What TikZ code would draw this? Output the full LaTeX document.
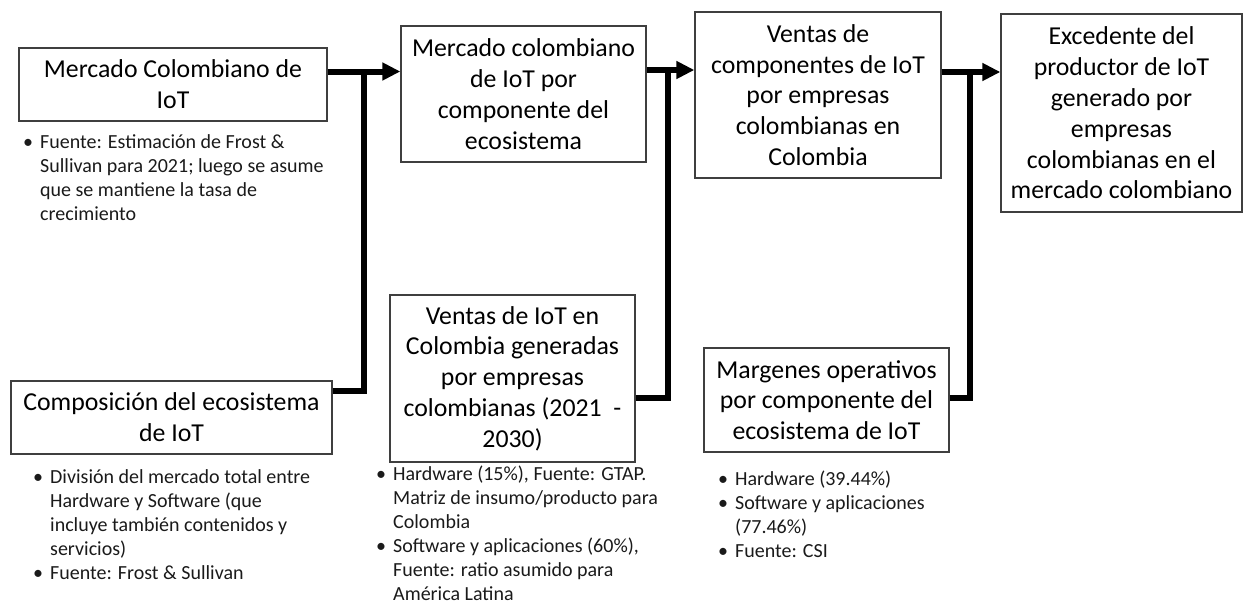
\documentclass[tikz,border=0pt]{standalone}
\usepackage{fontspec}
\setmainfont{Carlito}
\usetikzlibrary{arrows.meta}
\definecolor{boxgray}{HTML}{3F3F3F}
\definecolor{bultext}{HTML}{1A1A1A}
\tikzset{
  box/.style={draw=boxgray, line width=1.3pt, inner sep=0pt, align=center,
    font=\fontsize{25.8}{30.8}\selectfont, text=black},
  blist/.style={anchor=base west, inner sep=0pt, align=left,
    font=\fontsize{20}{24}\selectfont, text=bultext},
  conn/.style={line width=6pt, draw=black, line cap=butt, line join=miter},
  arr/.style={conn, -{Triangle[length=18pt,width=17pt]}}
}
\newcommand{\bul}{\llap{\makebox[17pt][l]{\textbullet}}}
\begin{document}
\begin{tikzpicture}[x=1pt,y=-1pt]
\useasboundingbox (0,0) rectangle (1243,605);

% boxes
\node[box, minimum width=308pt, minimum height=73pt] (A) at (173,84.5)
  {Mercado Colombiano de\\IoT};
\node[box, minimum width=321pt, minimum height=73pt] (B) at (171.5,417.5)
  {Composición del ecosistema\\de IoT};
\node[box, minimum width=245pt, minimum height=136pt] (C) at (523.5,94)
  {Mercado colombiano\\de IoT por\\componente del\\ecosistema};
\node[box, minimum width=245pt, minimum height=167pt] (D) at (512.5,378.5)
  {Ventas de IoT en\\Colombia generadas\\por empresas\\colombianas (2021\ \ -\\2030)};
\node[box, minimum width=246pt, minimum height=166pt] (E) at (818,95)
  {Ventas de\\componentes de IoT\\por empresas\\colombianas en\\Colombia};
\node[box, minimum width=245pt, minimum height=104pt] (F) at (826.5,400)
  {Margenes operativos\\por componente del\\ecosistema de IoT};
\node[box, minimum width=241pt, minimum height=198pt] (G) at (1121.5,113)
  {Excedente del\\productor de IoT\\generado por\\empresas\\colombianas en el\\mercado colombiano};

% bullet lists (base anchor = baseline of last line)
\node[blist] (nA) at (40,220)
  {\bul Fuente: Estimación de Frost \&\\Sullivan para 2021; luego se asume\\que se mantiene la tasa de\\crecimiento};
\node[blist] (nB) at (50,579)
  {\bul División del mercado total entre\\Hardware y Software (que\\incluye también contenidos y\\servicios)\\\bul Fuente: Frost \& Sullivan};
\node[blist] (nD) at (393,600)
  {\bul Hardware (15\%), Fuente: GTAP.\\Matriz de insumo/producto para\\Colombia\\\bul Software y aplicaciones (60\%),\\Fuente: ratio asumido para\\América Latina};
\node[blist] (nF) at (735,557)
  {\bul Hardware (39.44\%)\\\bul Software y aplicaciones\\(77.46\%)\\\bul Fuente: CSI};

% connectors
\coordinate (j1) at (363.5,71.5);
\coordinate (k1) at (363.5,391);
\draw[arr] (A.east |- j1) -- (C.west |- j1);
\draw[conn] (B.east |- k1) -- (k1) -- (j1);

\coordinate (j2) at (668,70);
\coordinate (k2) at (668,398);
\draw[arr] (C.east |- j2) -- (E.west |- j2);
\draw[conn] (D.east |- k2) -- (k2) -- (j2);

\coordinate (j3) at (970,72);
\coordinate (k3) at (970,398);
\draw[arr] (E.east |- j3) -- (G.west |- j3);
\draw[conn] (F.east |- k3) -- (k3) -- (j3);
\end{tikzpicture}
\end{document}
